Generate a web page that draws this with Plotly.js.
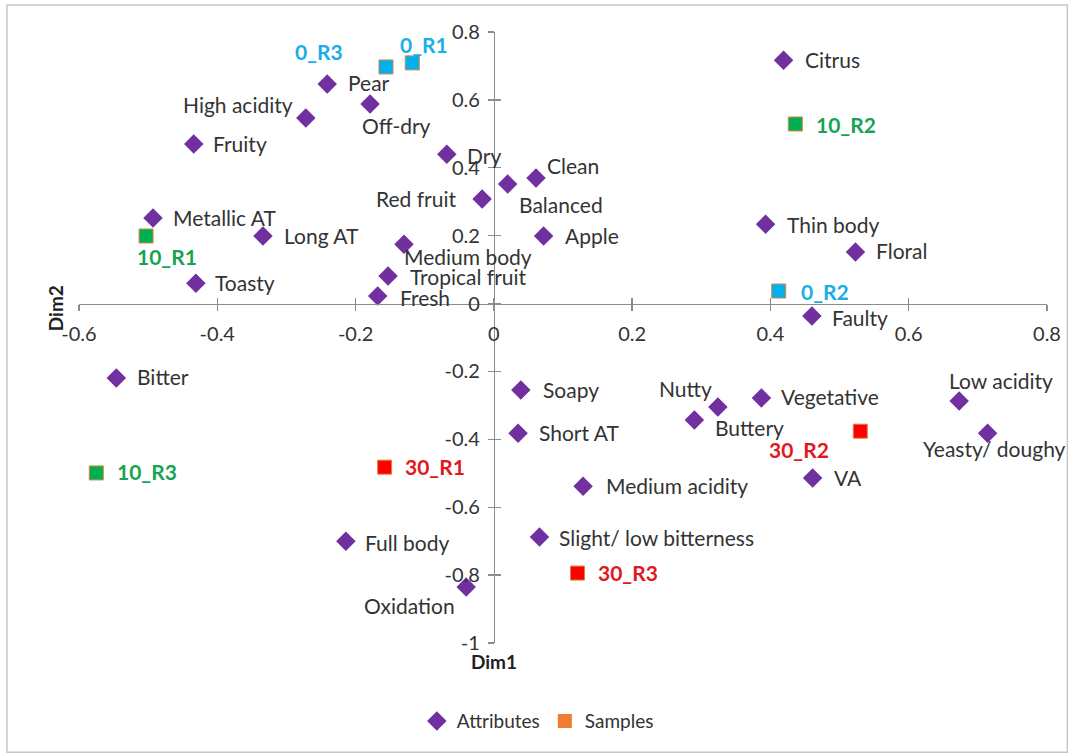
<!DOCTYPE html>
<html>
<head>
<meta charset="utf-8">
<script src="https://cdn.plot.ly/plotly-3.0.1.min.js"></script>
<style>html,body{margin:0;padding:0;background:#fff;}#chart{width:1070px;height:755px;}</style>
</head>
<body>
<div id="chart"></div>
<script>
// ---- data ----
var attrNames = ["Citrus","Pear","Off-dry","High acidity","Fruity","Dry","Clean","Balanced","Red fruit",
  "Metallic AT","Thin body","Long AT","Apple","Medium body","Floral","Tropical fruit","Toasty","Fresh",
  "Faulty","Bitter","Low acidity","Soapy","Nutty","Vegetative","Buttery","Yeasty/ doughy","Short AT",
  "VA","Medium acidity","Slight/ low bitterness","Full body","Oxidation"];
var attrX = [0.419,-0.241,-0.179,-0.272,-0.434,-0.068,0.061,0.020,-0.017,
  -0.493,0.393,-0.334,0.072,-0.130,0.523,-0.153,-0.431,-0.168,
  0.460,-0.546,0.673,0.039,0.324,0.387,0.290,0.714,0.035,
  0.461,0.129,0.066,-0.214,-0.040];
var attrY = [0.717,0.647,0.588,0.547,0.470,0.440,0.370,0.352,0.308,
  0.252,0.234,0.199,0.199,0.175,0.152,0.081,0.060,0.022,
  -0.037,-0.219,-0.287,-0.255,-0.305,-0.278,-0.343,-0.382,-0.382,
  -0.514,-0.538,-0.688,-0.700,-0.835];

var sampleNames = ["0_R3","0_R1","10_R2","10_R1","0_R2","30_R2","10_R3","30_R1","30_R3"];
var sampleX = [-0.156,-0.118,0.436,-0.503,0.412,0.530,-0.575,-0.158,0.121];
var sampleY = [0.697,0.709,0.529,0.199,0.037,-0.376,-0.499,-0.482,-0.794];

var xTicks = [-0.6,-0.4,-0.2,0,0.2,0.4,0.6,0.8];
var yTicks = [-1,-0.8,-0.6,-0.4,-0.2,0,0.2,0.4,0.6,0.8];

// ---- style: label placement [anchor, dx px, dy px (down)] ----
var attrLabelPlace = [
  ["left",20,-1],["left",20,-1],["center",26,22],["right",-12,-13],["left",18,-1],["left",19,1],["left",10,-12],["left",10,20],["right",-25,-1],
  ["left",19,-1],["left",20,0],["left",20,-1],["left",20,-1],["left",-1,12],["left",20,-1],["left",21,0],["left",18,-1],["left",21,1],
  ["left",19,1],["left",20,-1],["left",-11,-20],["left",21,-1],["right",-5,-19],["left",19,-1],["left",20,8],["center",7,15],["left",20,-1],
  ["left",20,-1],["left",22,-1],["left",19,0],["left",18,1],["right",-10,19]];
var sampleLabelPlace = [["right",-42,-15],["left",-13,-18],["left",20,1],["left",-10,20],["left",21,0],
  ["right",-30,18],["left",20,-1],["left",19,-1],["left",19,-1]];
var groupFill = {"0":"#00B0F0","10":"#00B050","30":"#FF0000"};
var groupText = {"0":"#1AAEE6","10":"#16A454","30":"#E3181E"};
function grp(n){return n.split("_")[0];}
var sampleFill = sampleNames.map(function(n){return groupFill[grp(n)];});

var FONT = "Lato, 'Noto Sans', sans-serif";
var purple = "#7030A0";

var traces = [
  {
    x: attrX, y: attrY, name: "Attributes", mode: "markers", type: "scatter",
    marker: {symbol: "diamond", size: 15, color: purple}, cliponaxis: false
  },
  {
    x: sampleX, y: sampleY, name: "Samples", mode: "markers", type: "scatter", showlegend: false,
    marker: {symbol: "square", size: 14, color: sampleFill, line: {color: "#D9843C", width: 1}}, cliponaxis: false
  },
  {
    x: [null], y: [null], name: "Samples", mode: "markers", type: "scatter",
    marker: {symbol: "square", size: 14, color: "#ED7D31"}
  },
  {
    x: [null], y: [null], xaxis: "x2", yaxis: "y2", mode: "markers", type: "scatter",
    showlegend: false, hoverinfo: "skip"
  }
];

var annotations = [];
function addLabel(x, y, txt, place, font) {
  annotations.push({
    x: x, y: y, xref: "x", yref: "y", text: txt, showarrow: false, borderpad: 0,
    xanchor: place[0], yanchor: "middle", xshift: place[1], yshift: -place[2],
    font: font
  });
}
attrNames.forEach(function(n, i){
  addLabel(attrX[i], attrY[i], n, attrLabelPlace[i], {family: FONT, size: 21, color: "#333333"});
});
sampleNames.forEach(function(n, i){
  addLabel(sampleX[i], sampleY[i], n, sampleLabelPlace[i], {family: FONT, size: 21, color: groupText[grp(n)], weight: "bold"});
});
annotations.push(
  {text: "Dim1", xref: "paper", yref: "paper", x: 0.4286, y: -0.03, xanchor: "center", yanchor: "middle",
   showarrow: false, font: {family: FONT, size: 19, color: "#222222", weight: "bold"}},
  {text: "Dim2", xref: "paper", yref: "paper", x: -0.0248, y: 0.548, xanchor: "center", yanchor: "middle",
   textangle: -90, showarrow: false, font: {family: FONT, size: 19, color: "#222222", weight: "bold"}}
);

var axCommon = {
  showgrid: false, zeroline: false, showline: true, linecolor: "#8C8C8C", linewidth: 1.3,
  ticks: "outside", ticklen: 6, tickwidth: 1.3, tickcolor: "#8C8C8C",
  tickfont: {family: FONT, size: 20, color: "#333333"},
  anchor: "free", fixedrange: true
};

var layout = {
  width: 1070, height: 755,
  margin: {l: 79, r: 23, t: 32, b: 112},
  paper_bgcolor: "#ffffff", plot_bgcolor: "rgba(0,0,0,0)",
  font: {family: FONT, color: "#333333"},
  showlegend: true,
  legend: {orientation: "h", x: 0.474, y: -0.128, xanchor: "center", yanchor: "middle",
    font: {family: FONT, size: 19, color: "#333333"}, itemwidth: 30, tracegroupgap: 0},
  xaxis: Object.assign({}, axCommon, {
    range: [-0.6, 0.8], tickvals: xTicks, ticktext: xTicks.map(String),
    position: 1/1.8, ticklabelstandoff: 6
  }),
  yaxis: Object.assign({}, axCommon, {
    range: [-1, 0.8], tickvals: yTicks, ticktext: yTicks.map(String),
    position: 0.6/1.4, ticklabelstandoff: 4
  }),
  xaxis2: Object.assign({}, axCommon, {
    overlaying: "x", range: [-0.6, 0.8], tickvals: xTicks, showticklabels: false,
    showline: false, ticks: "inside", position: 1/1.8
  }),
  yaxis2: Object.assign({}, axCommon, {
    overlaying: "y", range: [-1, 0.8], tickvals: yTicks, showticklabels: false,
    showline: false, ticks: "inside", position: 0.6/1.4
  }),
  annotations: annotations,
  shapes: [
    {type: "rect", xref: "paper", yref: "paper", x0: -0.0744, x1: 1.021, y0: -0.179, y1: 1.044,
     line: {color: "#C8C8C8", width: 1.5}, fillcolor: "rgba(0,0,0,0)", layer: "below"}
  ]
};

Plotly.newPlot("chart", traces, layout, {staticPlot: true, displayModeBar: false});
</script>
</body>
</html>
